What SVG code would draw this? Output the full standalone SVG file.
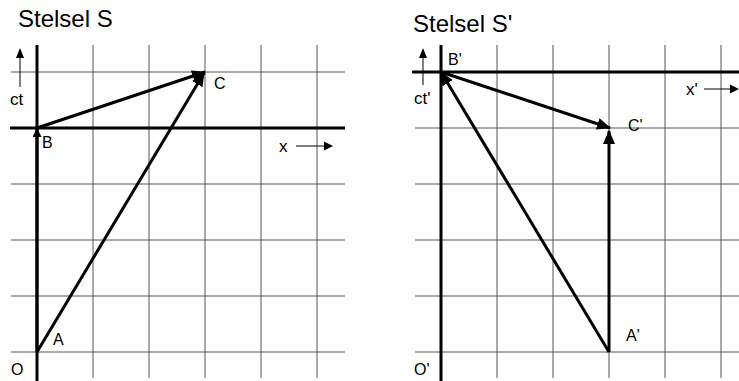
<svg xmlns="http://www.w3.org/2000/svg" width="739" height="381" viewBox="0 0 739 381">
  <defs>
    <style>
      .grid { stroke: #555; stroke-width: 1; fill: none; }
      .axis { stroke: #000; stroke-width: 3; fill: none; }
      .vec { stroke: #000; stroke-width: 3; fill: none; }
      .thin { stroke: #000; stroke-width: 1; fill: none; }
      .title { font-family: "Liberation Sans", Arial, sans-serif; font-size: 24px; fill: #000; }
      .lbl { font-family: "Liberation Sans", Arial, sans-serif; font-size: 16px; fill: #000; }
      .ax { font-family: "Liberation Sans", Arial, sans-serif; font-size: 17px; fill: #000; }
    </style>
    <marker id="ah" markerUnits="userSpaceOnUse" markerWidth="14" markerHeight="12" refX="13" refY="6" orient="auto">
      <path d="M0,0 L14,6 L0,12 z" fill="#000"/>
    </marker>
    <marker id="ahs" markerUnits="userSpaceOnUse" markerWidth="9" markerHeight="9" refX="9" refY="4.5" orient="auto">
      <path d="M0,0 L9,4.5 L0,9 z" fill="#000"/>
    </marker>
  </defs>

  <!-- Left panel: Stelsel S -->
  <g id="frame-S">
    <text class="title" x="18" y="27">Stelsel S</text>
    <g id="grid-S">
      <line class="grid" x1="11" y1="72" x2="345" y2="72"/>
      <line class="grid" x1="11" y1="184" x2="345" y2="184"/>
      <line class="grid" x1="11" y1="240" x2="345" y2="240"/>
      <line class="grid" x1="11" y1="296" x2="345" y2="296"/>
      <line class="grid" x1="11" y1="352" x2="345" y2="352"/>
      <line class="grid" x1="93" y1="45" x2="93" y2="378"/>
      <line class="grid" x1="149" y1="45" x2="149" y2="378"/>
      <line class="grid" x1="205" y1="45" x2="205" y2="378"/>
      <line class="grid" x1="261" y1="45" x2="261" y2="378"/>
      <line class="grid" x1="317" y1="45" x2="317" y2="378"/>
    </g>
    <line class="axis" x1="37" y1="45" x2="37" y2="381"/>
    <line class="axis" x1="10" y1="128" x2="345" y2="128"/>
    <g id="axis-ct">
      <line class="thin" x1="20" y1="87" x2="20" y2="55"/>
      <path d="M16,58 L20,48 L24,58 z" fill="#000"/>
      <text class="ax" x="10" y="105">ct</text>
    </g>
    <g id="axis-x">
      <text class="ax" x="279" y="152">x</text>
      <line class="thin" x1="296" y1="146" x2="326" y2="146"/>
      <path d="M324,141.5 L333,146 L324,150.5 z" fill="#000"/>
    </g>
  </g>
  <g id="node-O"><text class="lbl" x="11" y="375">O</text></g>
  <g id="node-A"><text class="lbl" x="53" y="345">A</text></g>
  <g id="node-B"><text class="lbl" x="42" y="148">B</text></g>
  <g id="node-C"><text class="lbl" x="214" y="89">C</text></g>

  <!-- Right panel: Stelsel S' -->
  <g id="frame-S2">
    <text class="title" x="413" y="32">Stelsel S'</text>
    <g id="grid-S2">
      <line class="grid" x1="415" y1="128" x2="739" y2="128"/>
      <line class="grid" x1="415" y1="184" x2="739" y2="184"/>
      <line class="grid" x1="415" y1="240" x2="739" y2="240"/>
      <line class="grid" x1="415" y1="296" x2="739" y2="296"/>
      <line class="grid" x1="415" y1="352" x2="739" y2="352"/>
      <line class="grid" x1="497" y1="45" x2="497" y2="378"/>
      <line class="grid" x1="553" y1="45" x2="553" y2="378"/>
      <line class="grid" x1="609" y1="45" x2="609" y2="378"/>
      <line class="grid" x1="665" y1="45" x2="665" y2="378"/>
      <line class="grid" x1="721" y1="45" x2="721" y2="378"/>
    </g>
    <line class="axis" x1="441" y1="45" x2="441" y2="381"/>
    <line class="axis" x1="412" y1="72" x2="739" y2="72"/>
    <g id="axis-ct2">
      <line class="thin" x1="423" y1="85" x2="423" y2="55"/>
      <path d="M419,58 L423,48 L427,58 z" fill="#000"/>
      <text class="ax" x="414" y="104">ct'</text>
    </g>
    <g id="axis-x2">
      <text class="ax" x="686" y="95">x'</text>
      <line class="thin" x1="704" y1="89" x2="732" y2="89"/>
      <path d="M730,84.5 L739,89 L730,93.5 z" fill="#000"/>
    </g>
  </g>
  <g id="node-O2"><text class="lbl" x="414" y="375">O'</text></g>
  <g id="node-A2"><text class="lbl" x="626" y="341">A'</text></g>
  <g id="node-B2"><text class="lbl" x="448" y="65">B'</text></g>
  <g id="node-C2"><text class="lbl" x="628" y="131">C'</text></g>

  <g id="connectors">
    <line class="vec" x1="37" y1="352" x2="37" y2="128" marker-end="url(#ahs)"/>
    <line class="vec" x1="37" y1="352" x2="204" y2="73" marker-end="url(#ah)"/>
    <line class="vec" x1="37" y1="128" x2="205" y2="72" marker-end="url(#ah)"/>
    <line class="vec" x1="609" y1="352" x2="609" y2="131" marker-end="url(#ah)"/>
    <line class="vec" x1="609" y1="352" x2="441" y2="72" marker-end="url(#ah)"/>
    <line class="vec" x1="441" y1="72" x2="610" y2="128" marker-end="url(#ah)"/>
  </g>
</svg>
